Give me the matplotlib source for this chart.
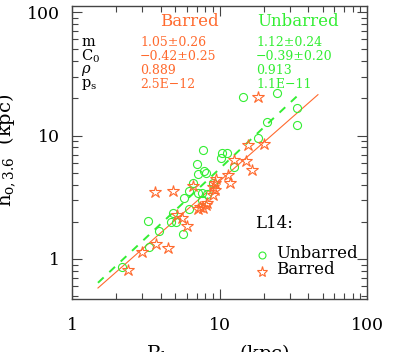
import numpy as np
import matplotlib
matplotlib.use('Agg')
import matplotlib.pyplot as plt

plt.rcParams['font.family'] = 'DejaVu Serif'
plt.rcParams['mathtext.fontset'] = 'dejavuserif'

# unbarred galaxies (circles)
unb_r = [14.4, 24.5, 33.5, 21.0, 33.5, 18.2, 7.73, 10.4, 11.2, 10.2, 12.5, 7.04,
         7.15, 7.85, 8.10, 6.61, 9.03, 6.21, 7.15, 7.61, 8.23, 5.75, 7.61, 6.21,
         4.84, 4.69, 5.07, 3.27, 3.89, 5.66, 3.33, 2.18]
unb_h = [20.5, 22.1, 16.7, 12.9, 12.2, 9.55, 7.63, 7.21, 7.21, 6.57, 5.56, 5.88,
         4.88, 5.16, 4.97, 4.12, 4.12, 3.55, 3.42, 3.42, 3.36, 3.12, 3.00, 2.54,
         2.36, 1.99, 1.99, 2.03, 1.69, 1.59, 1.25, 0.86]

# barred galaxies (stars)
bar_r = [18.2, 15.6, 20.0, 12.5, 15.1, 16.6, 11.4, 11.8, 9.47, 9.32, 9.03, 9.32,
         9.03, 6.61, 8.23, 7.37, 8.10, 3.65, 4.84, 5.15, 5.57, 6.02, 7.15, 7.73,
         3.71, 2.98, 4.48, 2.40]
bar_h = [20.5, 8.38, 8.54, 6.34, 6.22, 5.26, 4.79, 4.12, 4.44, 4.12, 3.83, 3.62,
         3.30, 3.90, 2.84, 2.64, 2.74, 3.49, 3.55, 2.27, 2.15, 1.85, 2.54, 2.59,
         1.32, 1.14, 1.23, 0.81]

# fit parameters
m_bar, c_bar = 1.05, -0.42
m_unb, c_unb = 1.12, -0.39
fit_x_bar = [1.5, 46.5]
fit_x_unb = [1.5, 33.5]

orange = '#ff6a2e'
green = '#33ee33'

fig = plt.figure(figsize=(3.99, 3.52), dpi=100)
ax = fig.add_axes([72/399, 53/352, 295/399, 293/352])
ax.set_xscale('log')
ax.set_yscale('log')
ax.set_xlim(1, 100)
ax.set_ylim(0.474, 112)

xb = np.array(fit_x_bar)
xu = np.array(fit_x_unb)
ax.plot(xb, 10**c_bar * xb**m_bar, color=orange, lw=0.8)
ax.plot(xu, 10**c_unb * xu**m_unb, color=green, lw=1.4, ls=(0, (4, 4)))

ax.plot(unb_r, unb_h, 'o', mfc='none', mec=green, ms=5.8, mew=0.8)
ax.plot(bar_r, bar_h, '*', mfc='none', mec=orange, ms=9, mew=0.8)

for s in ax.spines.values():
    s.set_color('#444444')
    s.set_linewidth(1.0)
ax.tick_params(which='both', direction='in', top=True, right=True, colors='#444444',
               labelcolor='black', labelsize=12.5, pad=9)
ax.tick_params(which='major', length=7, width=0.8)
ax.tick_params(which='minor', length=4, width=0.8)
ax.set_xticks([1, 10, 100])
ax.set_xticklabels(['1', '10', '100'])
ax.set_yticks([1, 10, 100])
ax.set_yticklabels(['1', '10', '100'])
ax.tick_params(axis='x', pad=13)

def ftext(x, y, s, **kw):
    fig.text(x/399, 1 - y/352, s, va='center', **kw)

ftext(81, 42, 'm', fontsize=10.5)
ftext(81, 56, r'C$_0$', fontsize=10.5)
ftext(81, 71, r'$\rho$', fontsize=10.5)
ftext(81, 85, r'p$_{\rm s}$', fontsize=10.5)

ftext(160, 22, 'Barred', fontsize=12, color=orange)
ftext(257, 22, 'Unbarred', fontsize=12, color=green)
for i, s in enumerate(['1.05\u00b10.26', '\u22120.42\u00b10.25', '0.889', '2.5E\u221212']):
    ftext(140, 42 + 14*i, s, fontsize=9, color=orange)
for i, s in enumerate(['1.12\u00b10.24', '\u22120.39\u00b10.20', '0.913', '1.1E\u221211']):
    ftext(256, 42 + 14*i, s, fontsize=9, color=green)

ftext(255, 224, 'L14:', fontsize=12)
ftext(276, 253, 'Unbarred', fontsize=12)
ftext(276, 270, 'Barred', fontsize=12)
fig.lines.append(plt.Line2D([262/399], [1 - 255/352], transform=fig.transFigure,
                            marker='o', mfc='none', mec=green, ms=5, mew=0.8, ls='none'))
fig.lines.append(plt.Line2D([262/399], [1 - 272/352], transform=fig.transFigure,
                            marker='*', mfc='none', mec=orange, ms=8, mew=0.8, ls='none'))

ftext(6, 150, r'h$_{\rm o,3.6}$  (kpc)', fontsize=14, rotation=90, ha='center')
fig.text(218/399, 1 - 354/352, r'R$_{\rm bar,max}$   (kpc)', fontsize=14,
         ha='center', va='center')

fig.savefig('out.png', dpi=100)
